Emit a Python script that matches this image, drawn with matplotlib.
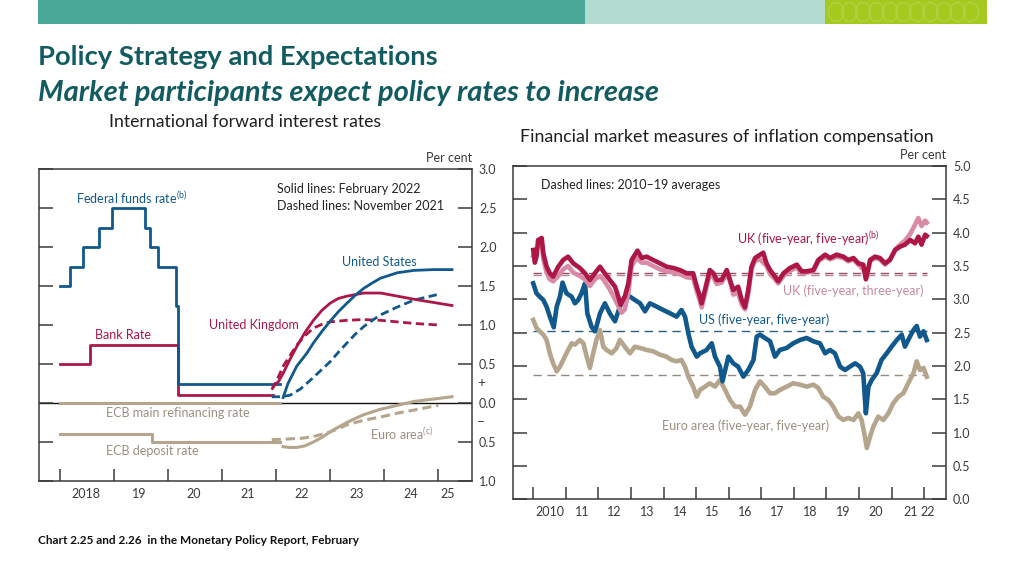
import matplotlib
matplotlib.use("Agg")
import matplotlib.pyplot as plt
from matplotlib.patches import Rectangle, Ellipse

plt.rcParams['font.family'] = ['Lato', 'DejaVu Sans']
plt.rcParams['mathtext.fontset'] = 'custom'
plt.rcParams['mathtext.rm'] = 'Lato'
plt.rcParams['axes.unicode_minus'] = False
plt.rcParams['lines.solid_joinstyle'] = 'round'

BLUE = '#11588c'
CRIMSON = '#ac1746'
PINK = '#d98aa7'
TAN = '#b5a58d'
INK = '#3a3a3a'
TEAL = '#125c61'

# ---- left chart: international forward interest rates ----
fed_x = [2018.0, 2018.2, 2018.43, 2018.72, 2018.96, 2019.57, 2019.68, 2019.81, 2020.16, 2020.19, 2022.07]
fed_y = [1.5, 1.75, 2.0, 2.25, 2.5, 2.25, 2.0, 1.75, 1.25, 0.25, 0.25]
bank_x = [2018.0, 2018.57, 2020.18, 2021.94]
bank_y = [0.5, 0.75, 0.1, 0.1]
ecb_mro_x = [2018.0, 2022.07]
ecb_mro_y = [0.0, 0.0]
ecb_dep_x = [2018.0, 2019.70, 2022.07]
ecb_dep_y = [-0.4, -0.5, -0.5]

us_feb_x = [2022.13, 2022.22, 2022.38, 2022.57, 2022.69, 2022.85, 2023.0, 2023.15, 2023.31, 2023.46,
            2023.62, 2023.78, 2023.93, 2024.24, 2024.55, 2024.9, 2025.25]
us_feb_y = [0.07, 0.25, 0.47, 0.64, 0.77, 0.92, 1.05, 1.17, 1.28, 1.38, 1.47, 1.54, 1.60, 1.67, 1.70, 1.71, 1.71]
us_nov_x = [2021.92, 2022.10, 2022.26, 2022.45, 2022.63, 2022.80, 2023.0, 2023.15, 2023.31, 2023.46,
            2023.62, 2023.78, 2023.93, 2024.24, 2024.55, 2024.98]
us_nov_y = [0.08, 0.08, 0.10, 0.18, 0.29, 0.40, 0.53, 0.65, 0.77, 0.88, 0.98, 1.06, 1.13, 1.23, 1.32, 1.39]
uk_feb_x = [2021.95, 2022.05, 2022.13, 2022.25, 2022.38, 2022.53, 2022.69, 2022.85, 2023.0, 2023.15,
            2023.31, 2023.62, 2023.93, 2024.24, 2024.55, 2024.9, 2025.25]
uk_feb_y = [0.21, 0.28, 0.38, 0.55, 0.72, 0.90, 1.06, 1.19, 1.28, 1.34, 1.37, 1.41, 1.41, 1.37, 1.33, 1.29, 1.25]
uk_nov_x = [2021.92, 2022.02, 2022.13, 2022.25, 2022.38, 2022.53, 2022.69, 2022.85, 2023.0, 2023.31,
            2023.62, 2023.93, 2024.24, 2024.55, 2025.0]
uk_nov_y = [0.17, 0.30, 0.47, 0.60, 0.74, 0.86, 0.96, 1.01, 1.04, 1.06, 1.07, 1.06, 1.04, 1.02, 1.00]
ea_feb_x = [2022.13, 2022.25, 2022.38, 2022.53, 2022.69, 2022.85, 2023.0, 2023.15, 2023.31, 2023.46,
            2023.62, 2023.93, 2024.24, 2024.55, 2024.9, 2025.25]
ea_feb_y = [-0.56, -0.57, -0.57, -0.55, -0.50, -0.44, -0.37, -0.31, -0.25, -0.20, -0.15, -0.08, -0.03, 0.02, 0.05, 0.08]
ea_nov_x = [2021.92, 2022.26, 2022.50, 2022.69, 2022.85, 2023.0, 2023.15, 2023.31, 2023.62, 2023.93,
            2024.24, 2024.55, 2025.0]
ea_nov_y = [-0.47, -0.46, -0.45, -0.43, -0.40, -0.37, -0.33, -0.28, -0.22, -0.18, -0.13, -0.09, -0.03]

left_years = list(range(2018, 2026))
left_year_labels = ['2018', '19', '20', '21', '22', '23', '24', '25']
left_label_pos = [2018.48, 2019.48, 2020.48, 2021.48, 2022.48, 2023.48, 2024.48, 2025.17]
left_yticks = [-1.0, -0.5, 0.0, 0.5, 1.0, 1.5, 2.0, 2.5, 3.0]
left_ylabels = ['1.0', '0.5', '0.0', '0.5', '1.0', '1.5', '2.0', '2.5', '3.0']

# ---- right chart: inflation compensation ----
uk55_x = [2010.00, 2010.05, 2010.10, 2010.15, 2010.26, 2010.31, 2010.41, 2010.51, 2010.61, 2010.77, 2010.92,
          2011.07, 2011.23, 2011.43, 2011.59, 2011.74, 2011.89, 2012.05, 2012.15, 2012.35, 2012.51, 2012.61,
          2012.68, 2012.81, 2012.92, 2013.02, 2013.20, 2013.33, 2013.48, 2013.68, 2013.89, 2014.09, 2014.30,
          2014.50, 2014.71, 2014.91, 2015.02, 2015.12, 2015.17, 2015.27, 2015.42, 2015.53, 2015.63, 2015.78,
          2015.94, 2016.04, 2016.14, 2016.29, 2016.40, 2016.50, 2016.60, 2016.70, 2016.81, 2017.06, 2017.16,
          2017.27, 2017.42, 2017.52, 2017.68, 2017.88, 2018.09, 2018.24, 2018.39, 2018.60, 2018.75, 2018.96,
          2019.11, 2019.31, 2019.52, 2019.67, 2019.83, 2019.98, 2020.13, 2020.21, 2020.34, 2020.49, 2020.64,
          2020.80, 2020.95, 2021.11, 2021.26, 2021.41, 2021.57, 2021.72, 2021.82, 2021.92, 2022.03, 2022.08]
uk55_y = [3.74, 3.55, 3.64, 3.89, 3.92, 3.69, 3.49, 3.39, 3.34, 3.49, 3.59,
          3.64, 3.54, 3.47, 3.39, 3.29, 3.39, 3.49, 3.42, 3.29, 3.19, 3.04,
          2.92, 3.04, 3.24, 3.59, 3.73, 3.62, 3.64, 3.59, 3.54, 3.49, 3.47,
          3.44, 3.39, 3.39, 3.19, 3.04, 2.94, 3.14, 3.44, 3.39, 3.29, 3.29,
          3.44, 3.29, 3.14, 3.19, 2.99, 2.88, 3.14, 3.49, 3.62, 3.70, 3.54,
          3.44, 3.34, 3.27, 3.39, 3.47, 3.52, 3.42, 3.42, 3.44, 3.59, 3.67,
          3.62, 3.67, 3.64, 3.59, 3.62, 3.54, 3.52, 3.30, 3.59, 3.64, 3.62,
          3.54, 3.59, 3.74, 3.79, 3.82, 3.89, 3.84, 3.94, 3.82, 3.97, 3.95]

uk53_x = [2010.00, 2010.15, 2010.26, 2010.31, 2010.41, 2010.51, 2010.61, 2010.77, 2010.92, 2011.07, 2011.23,
          2011.43, 2011.59, 2011.74, 2011.89, 2012.05, 2012.15, 2012.35, 2012.51, 2012.61, 2012.71, 2012.81,
          2012.92, 2013.02, 2013.17, 2013.33, 2013.48, 2013.68, 2013.89, 2014.09, 2014.30, 2014.50, 2014.71,
          2014.91, 2015.02, 2015.12, 2015.17, 2015.27, 2015.42, 2015.53, 2015.63, 2015.78, 2015.94, 2016.04,
          2016.14, 2016.29, 2016.40, 2016.50, 2016.60, 2016.70, 2016.81, 2016.96, 2017.16, 2017.27, 2017.42,
          2017.52, 2017.68, 2017.88, 2018.09, 2018.24, 2018.39, 2018.60, 2018.75, 2018.96, 2019.11, 2019.31,
          2019.52, 2019.67, 2019.83, 2019.98, 2020.13, 2020.24, 2020.34, 2020.49, 2020.64, 2020.80, 2020.95,
          2021.11, 2021.26, 2021.41, 2021.57, 2021.72, 2021.82, 2021.92, 2022.03, 2022.08]
uk53_y = [3.65, 3.80, 3.85, 3.60, 3.40, 3.30, 3.27, 3.35, 3.45, 3.50, 3.40,
          3.35, 3.30, 3.20, 3.30, 3.35, 3.30, 3.15, 3.00, 2.90, 2.80, 2.85,
          3.10, 3.50, 3.62, 3.55, 3.55, 3.50, 3.45, 3.42, 3.40, 3.38, 3.33,
          3.32, 3.12, 2.97, 2.88, 3.08, 3.38, 3.33, 3.23, 3.25, 3.38, 3.27,
          3.07, 3.10, 2.92, 2.85, 3.08, 3.45, 3.58, 3.60, 3.50, 3.38, 3.30,
          3.24, 3.35, 3.43, 3.48, 3.39, 3.40, 3.42, 3.57, 3.64, 3.60, 3.64,
          3.62, 3.57, 3.60, 3.52, 3.45, 3.33, 3.57, 3.62, 3.60, 3.52, 3.60,
          3.75, 3.82, 3.88, 3.98, 4.12, 4.22, 4.10, 4.18, 4.15]

us55_x = [2010.00, 2010.10, 2010.20, 2010.31, 2010.41, 2010.51, 2010.63, 2010.72, 2010.82, 2010.90, 2011.02,
          2011.18, 2011.28, 2011.38, 2011.48, 2011.59, 2011.66, 2011.79, 2011.89, 2011.94, 2012.05, 2012.20,
          2012.35, 2012.51, 2012.66, 2012.81, 2012.97, 2013.12, 2013.28, 2013.43, 2013.58, 2013.79, 2013.99,
          2014.20, 2014.40, 2014.55, 2014.66, 2014.76, 2014.86, 2015.02, 2015.12, 2015.32, 2015.48, 2015.58,
          2015.73, 2015.81, 2015.99, 2016.14, 2016.29, 2016.45, 2016.60, 2016.76, 2016.86, 2016.96, 2017.11,
          2017.27, 2017.42, 2017.57, 2017.78, 2017.98, 2018.19, 2018.39, 2018.60, 2018.80, 2018.96, 2019.11,
          2019.26, 2019.42, 2019.57, 2019.72, 2019.88, 2020.03, 2020.13, 2020.21, 2020.29, 2020.39, 2020.54,
          2020.69, 2020.85, 2021.00, 2021.16, 2021.31, 2021.41, 2021.51, 2021.67, 2021.77, 2021.87, 2021.98,
          2022.08]
us55_y = [3.24, 3.09, 3.04, 2.99, 2.89, 2.74, 2.58, 2.89, 3.04, 3.25, 3.09,
          3.04, 2.94, 2.99, 3.09, 3.24, 2.79, 2.59, 2.52, 2.59, 2.79, 2.94,
          2.79, 2.67, 2.89, 3.04, 3.04, 2.99, 2.94, 2.82, 2.94, 2.89, 2.84,
          2.79, 2.74, 2.84, 2.74, 2.49, 2.29, 2.14, 2.19, 2.24, 2.34, 2.14,
          1.99, 1.77, 2.14, 2.04, 1.99, 1.84, 1.94, 2.09, 2.44, 2.47, 2.42,
          2.37, 2.14, 2.24, 2.27, 2.34, 2.39, 2.42, 2.37, 2.34, 2.19, 2.24,
          2.19, 1.99, 1.94, 1.99, 2.04, 1.99, 1.89, 1.29, 1.69, 1.79, 1.89,
          2.09, 2.19, 2.29, 2.39, 2.47, 2.29, 2.39, 2.54, 2.60, 2.44, 2.52,
          2.39]

ea55_x = [2010.00, 2010.10, 2010.20, 2010.31, 2010.41, 2010.51, 2010.61, 2010.72, 2010.82, 2010.92, 2011.02,
          2011.18, 2011.28, 2011.43, 2011.54, 2011.64, 2011.74, 2011.84, 2011.94, 2012.05, 2012.15, 2012.25,
          2012.41, 2012.56, 2012.66, 2012.81, 2012.97, 2013.12, 2013.28, 2013.48, 2013.68, 2013.89, 2014.09,
          2014.25, 2014.40, 2014.55, 2014.66, 2014.76, 2014.91, 2015.02, 2015.12, 2015.27, 2015.42, 2015.58,
          2015.73, 2015.89, 2016.04, 2016.19, 2016.35, 2016.50, 2016.65, 2016.81, 2016.96, 2017.11, 2017.27,
          2017.42, 2017.57, 2017.78, 2017.98, 2018.19, 2018.39, 2018.60, 2018.75, 2018.90, 2019.06, 2019.21,
          2019.37, 2019.52, 2019.67, 2019.83, 2019.98, 2020.08, 2020.18, 2020.24, 2020.34, 2020.44, 2020.59,
          2020.75, 2020.90, 2021.05, 2021.21, 2021.36, 2021.51, 2021.67, 2021.77, 2021.87, 2021.98, 2022.08]
ea55_y = [2.69, 2.57, 2.52, 2.47, 2.39, 2.19, 2.04, 1.92, 1.99, 2.09, 2.19,
          2.34, 2.32, 2.39, 2.34, 2.14, 1.97, 2.19, 2.39, 2.54, 2.29, 2.24,
          2.19, 2.27, 2.39, 2.29, 2.19, 2.29, 2.27, 2.24, 2.22, 2.17, 2.14,
          2.09, 2.07, 2.09, 1.99, 1.84, 1.69, 1.54, 1.64, 1.69, 1.74, 1.69,
          1.79, 1.64, 1.49, 1.39, 1.39, 1.27, 1.39, 1.64, 1.77, 1.69, 1.59,
          1.59, 1.64, 1.69, 1.74, 1.72, 1.69, 1.72, 1.67, 1.54, 1.49, 1.39,
          1.24, 1.19, 1.22, 1.19, 1.29, 1.19, 0.94, 0.77, 0.94, 1.09, 1.24,
          1.19, 1.29, 1.44, 1.54, 1.59, 1.74, 1.89, 2.07, 1.94, 1.97, 1.84]

avg_span = [2010.0, 2022.08]
uk55_avg = 3.40
uk53_avg = 3.36
us55_avg = 2.52
ea55_avg = 1.87

right_years = list(range(2010, 2023))
right_year_labels = ['2010', '11', '12', '13', '14', '15', '16', '17', '18', '19', '20', '21', '22']
right_label_pos = [2010.5 + i for i in range(11)] + [2021.6, 2022.1]
right_yticks = [0.0, 0.5, 1.0, 1.5, 2.0, 2.5, 3.0, 3.5, 4.0, 4.5, 5.0]

FS = 9


def style_axes(ax, years, label_pos, labels, yticks, ylabels):
    for s in ax.spines.values():
        s.set_color(INK)
        s.set_linewidth(1.1)
    ax.set_xticks(years)
    ax.set_xticklabels([])
    ax.set_xticks(label_pos, minor=True)
    ax.set_xticklabels(labels, minor=True)
    ax.tick_params(axis='x', which='major', direction='in', length=9, width=1.1,
                   color=INK, bottom=True, top=False)
    ax.tick_params(axis='x', which='minor', length=0, pad=5, labelsize=FS, labelcolor=INK)
    ax.set_yticks(yticks)
    ax.set_yticklabels(ylabels)
    ax.tick_params(axis='y', direction='in', length=10, width=1.1, color=INK,
                   left=True, right=True, labelleft=False, labelright=True,
                   pad=5, labelsize=FS, labelcolor=INK)
    ax.annotate('Per cent', xy=(1, 1), xycoords='axes fraction', xytext=(0, 5),
                textcoords='offset points', ha='right', va='baseline',
                fontsize=FS, color=INK)


fig = plt.figure(figsize=(10.24, 5.76), dpi=100)
W, H = 1024.0, 576.0

# header banner
fig.add_artist(Rectangle((38 / W, 1 - 24 / H), (585 - 38) / W, 24 / H,
                         transform=fig.transFigure, color='#4aa899', lw=0))
fig.add_artist(Rectangle((585 / W, 1 - 24 / H), (825 - 585) / W, 24 / H,
                         transform=fig.transFigure, color='#b3dcd0', lw=0))
fig.add_artist(Rectangle((825 / W, 1 - 24 / H), (987 - 825) / W, 24 / H,
                         transform=fig.transFigure, color='#a6c920', lw=0))
for i in range(11):
    cx = 836 + i * 13.5
    fig.add_artist(Ellipse((cx / W, 1 - 12 / H), 15 / W, 19 / H, transform=fig.transFigure,
                           fill=False, edgecolor='#b4d348', lw=0.8))

fig.text(38 / W, 1 - 65 / H, 'Policy Strategy and Expectations', fontsize=19.7,
         fontweight='bold', color=TEAL, va='baseline')
fig.text(38 / W, 1 - 101.5 / H, 'Market participants expect policy rates to increase',
         fontsize=21, fontweight='bold', style='italic', color=TEAL, va='baseline')
fig.text(109 / W, 1 - 127 / H, 'International forward interest rates', fontsize=12.7,
         color='#1e1e1e', va='baseline')
fig.text(520 / W, 1 - 142 / H, 'Financial market measures of inflation compensation',
         fontsize=12.9, color='#1e1e1e', va='baseline')
fig.text(38 / W, 1 - 544 / H, 'Chart 2.25 and 2.26  in the Monetary Policy Report, February',
         fontsize=8.5, fontweight='bold', color='#111111', va='baseline')

# left chart
ax1 = fig.add_axes([39 / W, (H - 481) / H, 433 / W, 312 / H])
ax1.set_xlim(2017.62, 2025.62)
ax1.set_ylim(-1, 3)
style_axes(ax1, left_years, left_label_pos, left_year_labels, left_yticks, left_ylabels)
ax1.axhline(0, color='#111111', lw=1.0, zorder=1)
ax1.plot(ecb_mro_x, ecb_mro_y, color=TAN, lw=2.2, zorder=2)
ax1.step(ecb_dep_x, ecb_dep_y, where='post', color=TAN, lw=2.2)
ax1.step(bank_x, bank_y, where='post', color=CRIMSON, lw=2.0)
ax1.step(fed_x, fed_y, where='post', color=BLUE, lw=2.0)
ax1.plot(ea_nov_x, ea_nov_y, color=TAN, lw=2.2, dashes=(3, 1.6))
ax1.plot(ea_feb_x, ea_feb_y, color=TAN, lw=2.2)
ax1.plot(uk_nov_x, uk_nov_y, color=CRIMSON, lw=2.0, dashes=(3, 1.6))
ax1.plot(us_nov_x, us_nov_y, color=BLUE, lw=2.0, dashes=(3, 1.6))
ax1.plot(uk_feb_x, uk_feb_y, color=CRIMSON, lw=2.0)
ax1.plot(us_feb_x, us_feb_y, color=BLUE, lw=2.0)

ax1.text(2018.31, 2.63, r'Federal funds rate$^{\mathrm{(b)}}$', color=BLUE, fontsize=FS, va='center')
ax1.text(2022.01, 2.74, 'Solid lines: February 2022', color='#222222', fontsize=FS, va='center')
ax1.text(2022.01, 2.53, 'Dashed lines: November 2021', color='#222222', fontsize=FS, va='center')
ax1.text(2023.22, 1.81, 'United States', color=BLUE, fontsize=FS, va='center')
ax1.text(2020.76, 1.0, 'United Kingdom', color=CRIMSON, fontsize=FS, va='center')
ax1.text(2018.65, 0.87, 'Bank Rate', color=CRIMSON, fontsize=FS, va='center')
ax1.text(2018.85, -0.13, 'ECB main refinancing rate', color='#9a9080', fontsize=FS, va='center')
ax1.text(2018.85, -0.62, 'ECB deposit rate', color='#9a9080', fontsize=FS, va='center')
ax1.text(2023.74, -0.39, r'Euro area$^{\mathrm{(c)}}$', color='#9a9080', fontsize=FS, va='center')
ax1.text(1.012, 0.25, '+', transform=ax1.get_yaxis_transform(), fontsize=10, color=INK, va='center')
ax1.text(1.012, -0.25, '–', transform=ax1.get_yaxis_transform(), fontsize=10, color=INK, va='center')

# right chart
ax2 = fig.add_axes([512.7 / W, (H - 499.3) / H, 433.3 / W, 333.3 / H])
ax2.set_xlim(2009.37, 2022.67)
ax2.set_ylim(0, 5)
style_axes(ax2, right_years, right_label_pos, right_year_labels, right_yticks,
           ['%.1f' % v for v in right_yticks])
ax2.plot(avg_span, [ea55_avg] * 2, color='#8f8a84', lw=1.0, dashes=(6, 4))
ax2.plot(avg_span, [us55_avg] * 2, color='#2b5f84', lw=1.0, dashes=(6, 4))
ax2.plot(avg_span, [uk53_avg] * 2, color='#b08a98', lw=1.0, dashes=(6, 4))
ax2.plot(avg_span, [uk55_avg] * 2, color='#9a4a64', lw=1.0, dashes=(6, 4))
ax2.plot(ea55_x, ea55_y, color=TAN, lw=3.3)
ax2.plot(us55_x, us55_y, color=BLUE, lw=3.3)
ax2.plot(uk53_x, uk53_y, color=PINK, lw=3.3)
ax2.plot(uk55_x, uk55_y, color=CRIMSON, lw=3.3)

ax2.text(2010.23, 4.72, 'Dashed lines: 2010–19 averages', color='#222222', fontsize=FS, va='center')
ax2.text(2016.25, 3.91, r'UK (five-year, five-year)$^{\mathrm{(b)}}$', color=CRIMSON, fontsize=FS, va='center')
ax2.text(2017.68, 3.13, 'UK (five-year, three-year)', color='#c48a9e', fontsize=FS, va='center')
ax2.text(2015.09, 2.69, 'US (five-year, five-year)', color=BLUE, fontsize=FS, va='center')
ax2.text(2013.94, 1.10, 'Euro area (five-year, five-year)', color='#9a9080', fontsize=FS, va='center')

fig.savefig('out.png', dpi=100)
